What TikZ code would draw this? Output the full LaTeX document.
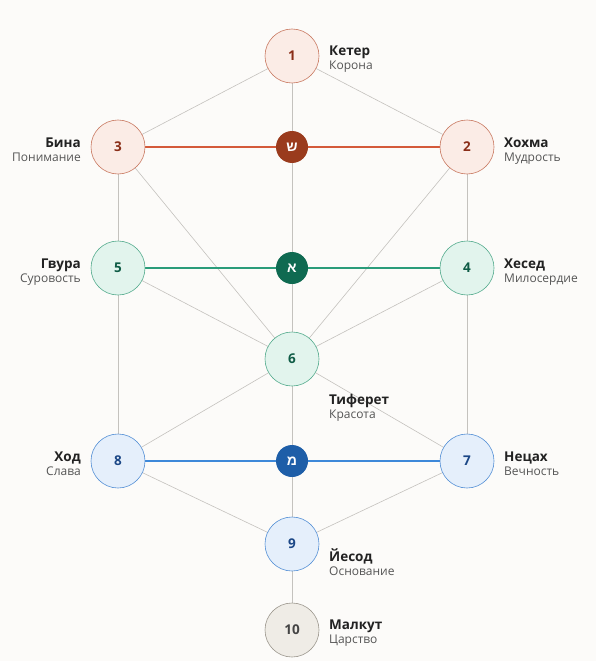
\documentclass[tikz,border=0pt]{standalone}
\usepackage{fontspec}
\setmainfont{Open Sans}
\newfontfamily\hebfont[Script=Hebrew]{Liberation Sans}
\TeXXeTstate=1
\definecolor{bgc}{HTML}{FCFBF9}
\definecolor{edgec}{HTML}{C4C2BE}
\definecolor{rfill}{HTML}{FBECE6}
\definecolor{rdraw}{HTML}{C97A62}
\definecolor{rtext}{HTML}{8A2E18}
\definecolor{rdark}{HTML}{9A3B1D}
\definecolor{rline}{HTML}{D45A3A}
\definecolor{gfill}{HTML}{E2F4ED}
\definecolor{gdraw}{HTML}{55AC8E}
\definecolor{gtext}{HTML}{0F5C46}
\definecolor{gdark}{HTML}{0F6A51}
\definecolor{gline}{HTML}{2A9C7A}
\definecolor{bfill}{HTML}{E5EFFB}
\definecolor{bdraw}{HTML}{5590D6}
\definecolor{btext}{HTML}{1B4786}
\definecolor{bdark}{HTML}{1E5EA8}
\definecolor{bline}{HTML}{3D88D9}
\definecolor{nfill}{HTML}{EFECE6}
\definecolor{ndraw}{HTML}{9C978E}
\definecolor{ntext}{HTML}{444444}
\definecolor{namec}{HTML}{222222}
\definecolor{subc}{HTML}{555555}
\tikzset{
  sef/.style={circle, minimum size=54pt, inner sep=0pt, line width=0.6pt, font=\fontsize{13.5}{13.5}\selectfont\bfseries},
  redsef/.style={sef, fill=rfill, draw=rdraw, text=rtext},
  greensef/.style={sef, fill=gfill, draw=gdraw, text=gtext},
  bluesef/.style={sef, fill=bfill, draw=bdraw, text=btext},
  graysef/.style={sef, fill=nfill, draw=ndraw, text=ntext},
  letter/.style={circle, minimum size=32pt, inner sep=0pt, text=white, font=\hebfont\fontsize{14}{14}\selectfont\bfseries},
  path/.style={draw=edgec, line width=0.6pt},
  bar/.style={line width=2pt},
  nm/.style={inner sep=0pt, text=namec, font=\fontsize{13.5}{13.5}\selectfont\bfseries},
  sb/.style={inner sep=0pt, text=subc, font=\fontsize{12}{12}\selectfont},
}
\begin{document}
\begin{tikzpicture}[x=1pt,y=-1pt]
\fill[bgc] (0,0) rectangle (596,661);
\useasboundingbox (0,0) rectangle (596,661);
% coordinates
\coordinate (p1) at (292,56);
\coordinate (p2) at (467,147);
\coordinate (p3) at (118,147);
\coordinate (p4) at (467,268);
\coordinate (p5) at (118,268);
\coordinate (p6) at (292,359);
\coordinate (p7) at (467,461);
\coordinate (p8) at (118,461);
\coordinate (p9) at (292,544);
\coordinate (p10) at (292,630);
% gray paths
\draw[path] (p1) -- (p3);
\draw[path] (p1) -- (p2);
\draw[path] (p1) -- (p6);
\draw[path] (p3) -- (p5);
\draw[path] (p2) -- (p4);
\draw[path] (p3) -- (p6);
\draw[path] (p2) -- (p6);
\draw[path] (p5) -- (p6);
\draw[path] (p4) -- (p6);
\draw[path] (p5) -- (p8);
\draw[path] (p4) -- (p7);
\draw[path] (p6) -- (p8);
\draw[path] (p6) -- (p7);
\draw[path] (p6) -- (p9);
\draw[path] (p8) -- (p9);
\draw[path] (p7) -- (p9);
\draw[path] (p9) -- (p10);
% coloured bars
\draw[bar, rline] (p3) -- (p2);
\draw[bar, gline] (p5) -- (p4);
\draw[bar, bline] (p8) -- (p7);
% sefirot
\node[redsef] (s1) at (p1) {1};
\node[redsef] (s2) at (p2) {2};
\node[redsef] (s3) at (p3) {3};
\node[greensef] (s4) at (p4) {4};
\node[greensef] (s5) at (p5) {5};
\node[greensef] (s6) at (p6) {6};
\node[bluesef] (s7) at (p7) {7};
\node[bluesef] (s8) at (p8) {8};
\node[bluesef] (s9) at (p9) {9};
\node[graysef] (s10) at (p10) {10};
% letters
\node[letter, fill=rdark] (shin) at (292,147) {\beginR ש\endR};
\node[letter, fill=gdark] (aleph) at (292,268) {\beginR א\endR};
\node[letter, fill=bdark] (mem) at (292,461) {\beginR מ\endR};
% labels right
\node[nm, anchor=base west] (n1) at (329,56) {Кетер};
\node[sb, anchor=base west] (d1) at (329,70) {Корона};
\node[nm, anchor=base west] (n2) at (504,147) {Хохма};
\node[sb, anchor=base west] (d2) at (504,161) {Мудрость};
\node[nm, anchor=base west] (n4) at (504,268) {Хесед};
\node[sb, anchor=base west] (d4) at (504,282) {Милосердие};
\node[nm, anchor=base west] (n6) at (329,404) {Тиферет};
\node[sb, anchor=base west] (d6) at (329,418) {Красота};
\node[nm, anchor=base west] (n7) at (504,461) {Нецах};
\node[sb, anchor=base west] (d7) at (504,475) {Вечность};
\node[nm, anchor=base west] (n9) at (329,561) {Йесод};
\node[sb, anchor=base west] (d9) at (329,575) {Основание};
\node[nm, anchor=base west] (n10) at (329,629) {Малкут};
\node[sb, anchor=base west] (d10) at (329,643) {Царство};
% labels left
\node[nm, anchor=base east] (n3) at (81,147) {Бина};
\node[sb, anchor=base east] (d3) at (81,161) {Понимание};
\node[nm, anchor=base east] (n5) at (81,268) {Гвура};
\node[sb, anchor=base east] (d5) at (81,282) {Суровость};
\node[nm, anchor=base east] (n8) at (81,461) {Ход};
\node[sb, anchor=base east] (d8) at (81,475) {Слава};
\end{tikzpicture}
\end{document}
